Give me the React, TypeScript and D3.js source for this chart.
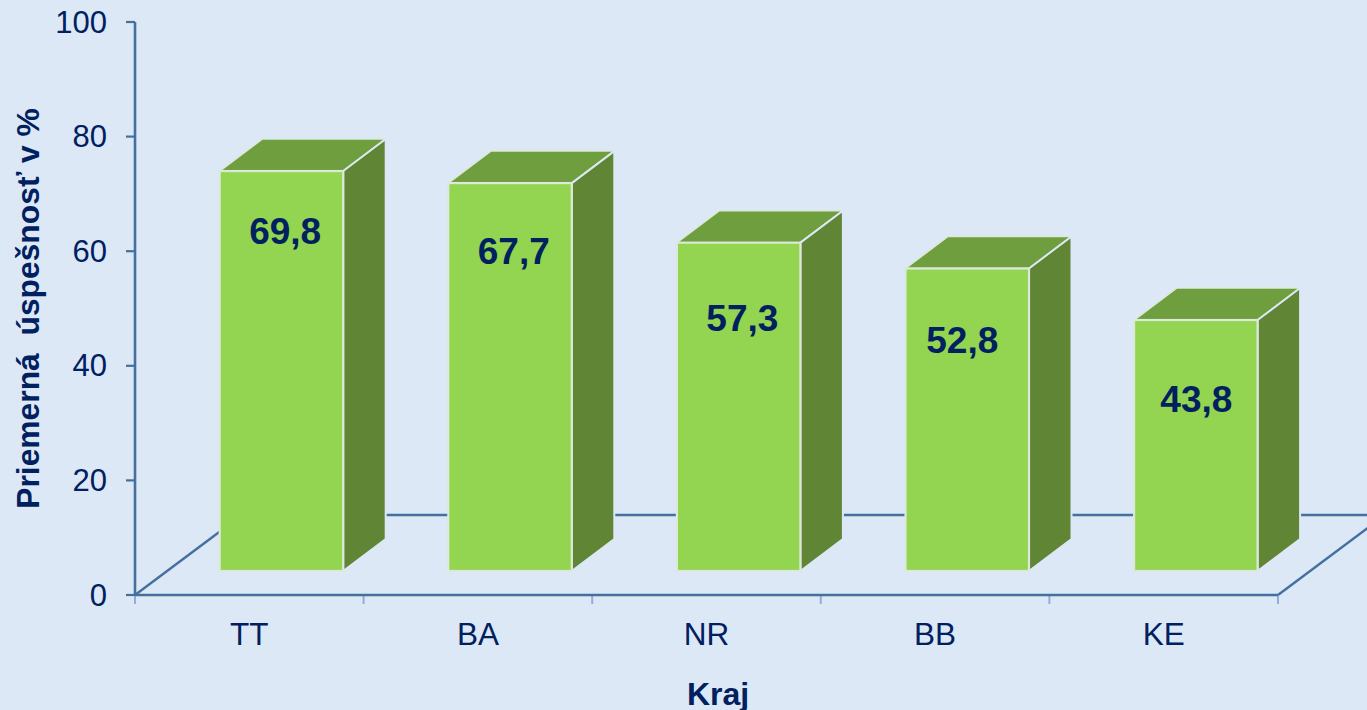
import React from "react";
import * as d3 from "d3";

const categories = ["TT", "BA", "NR", "BB", "KE"];
const labels = ["69,8", "67,7", "57,3", "52,8", "43,8"];
const values = [69.8, 67.7, 57.3, 52.8, 43.8];
const yTicks = [0, 20, 40, 60, 80, 100];

const W = 1367, H = 710;
const BG = "#dce8f5", AXIS = "#44709f", TICK = "#93acdb", INK = "#002060";
const FRONT = "#93d451", TOP = "#6f9e3e", SIDE = "#5f8535", EDGE = "#dce8dc";
const FONT = "'Liberation Sans', Arial, sans-serif";

const y = d3.scaleLinear().domain([0, 100]).range([595, 22]);
const x = d3.scaleBand<string>().domain(categories).range([135, 1278]);

const LIFT = 24, DX = 42.5, DY = 32, BAR_OFFSET = 84.7, BAR_W = 123.5;
const FLOOR_DX = 107, FLOOR_DY = 80;
// hand placement of the value labels inside each bar, as in the source slide
const LABEL_DROP = [72.5, 80.5, 88.5, 84.5, 91.5];
const LABEL_SHIFT = [3.7, 3.7, 3.7, -5, 0.5];

export default function App() {
  const bw = x.bandwidth();
  const base = y(0) - LIFT;
  const poly = d3.line();
  return (
    <svg width={W} height={H} viewBox={`0 0 ${W} ${H}`}
      style={{ position: "fixed", left: 0, top: 0, display: "block", background: BG }}>
      <rect width={W} height={H} fill={BG} />
      {/* floor */}
      <line x1={x.range()[0] + FLOOR_DX} x2={W} y1={y(0) - FLOOR_DY} y2={y(0) - FLOOR_DY} stroke={AXIS} strokeWidth={2.6} />
      <line x1={x.range()[0]} x2={x.range()[0] + FLOOR_DX} y1={y(0)} y2={y(0) - FLOOR_DY} stroke={AXIS} strokeWidth={2.4} />
      <line x1={x.range()[1]} x2={x.range()[1] + FLOOR_DX} y1={y(0)} y2={y(0) - FLOOR_DY} stroke={AXIS} strokeWidth={2.4} />
      {/* x ticks */}
      {[...categories.map((c) => x(c)!), x.range()[1]].map((t, i) => (
        <line key={i} x1={t} x2={t} y1={y(0)} y2={y(0) + 9} stroke={TICK} strokeWidth={2} />
      ))}
      {/* axes */}
      <line x1={x.range()[0]} x2={x.range()[0]} y1={y(100)} y2={y(0)} stroke={AXIS} strokeWidth={2.6} />
      <line x1={x.range()[0]} x2={x.range()[1]} y1={y(0)} y2={y(0)} stroke={AXIS} strokeWidth={2.6} />
      {yTicks.map((t) => (
        <g key={t}>
          <line x1={126} x2={135} y1={y(t)} y2={y(t)} stroke={AXIS} strokeWidth={2.2} />
          <text x={107} y={y(t) + 10.5} textAnchor="end" fontFamily={FONT} fontSize={31} fill={INK}>{t}</text>
        </g>
      ))}
      {/* bars */}
      {categories.map((c, i) => {
        const l = x(c)! + BAR_OFFSET;
        const r = l + BAR_W;
        const t = y(values[i]) - LIFT;
        return (
          <g key={c}>
            <path d={poly([[l, t], [l + DX, t - DY], [r + DX, t - DY], [r, t]]) + "Z"} fill={TOP} stroke={EDGE} strokeWidth={1.5} strokeLinejoin="round" />
            <path d={poly([[r, t], [r + DX, t - DY], [r + DX, base - DY], [r, base]]) + "Z"} fill={SIDE} stroke={BG} strokeWidth={2} />
            <rect x={l} y={t} width={BAR_W} height={base - t} fill={FRONT} stroke={EDGE} strokeWidth={2.2} />
            <text x={l + BAR_W / 2 + LABEL_SHIFT[i]} y={t + LABEL_DROP[i]} textAnchor="middle" fontFamily={FONT} fontWeight="bold" fontSize={37} fill={INK}>{labels[i]}</text>
            <text x={x(c)! + bw / 2} y={645} textAnchor="middle" fontFamily={FONT} fontSize={31.5} fill={INK}>{c}</text>
          </g>
        );
      })}
      <text x={718} y={705} textAnchor="middle" fontFamily={FONT} fontWeight="bold" fontSize={32} fill={INK}>Kraj</text>
      <text transform="translate(39,308.5) rotate(-90)" textAnchor="middle" fontFamily={FONT} fontWeight="bold" fontSize={31.8} fill={INK} xmlSpace="preserve">Priemerná  úspešnosť v %</text>
    </svg>
  );
}
